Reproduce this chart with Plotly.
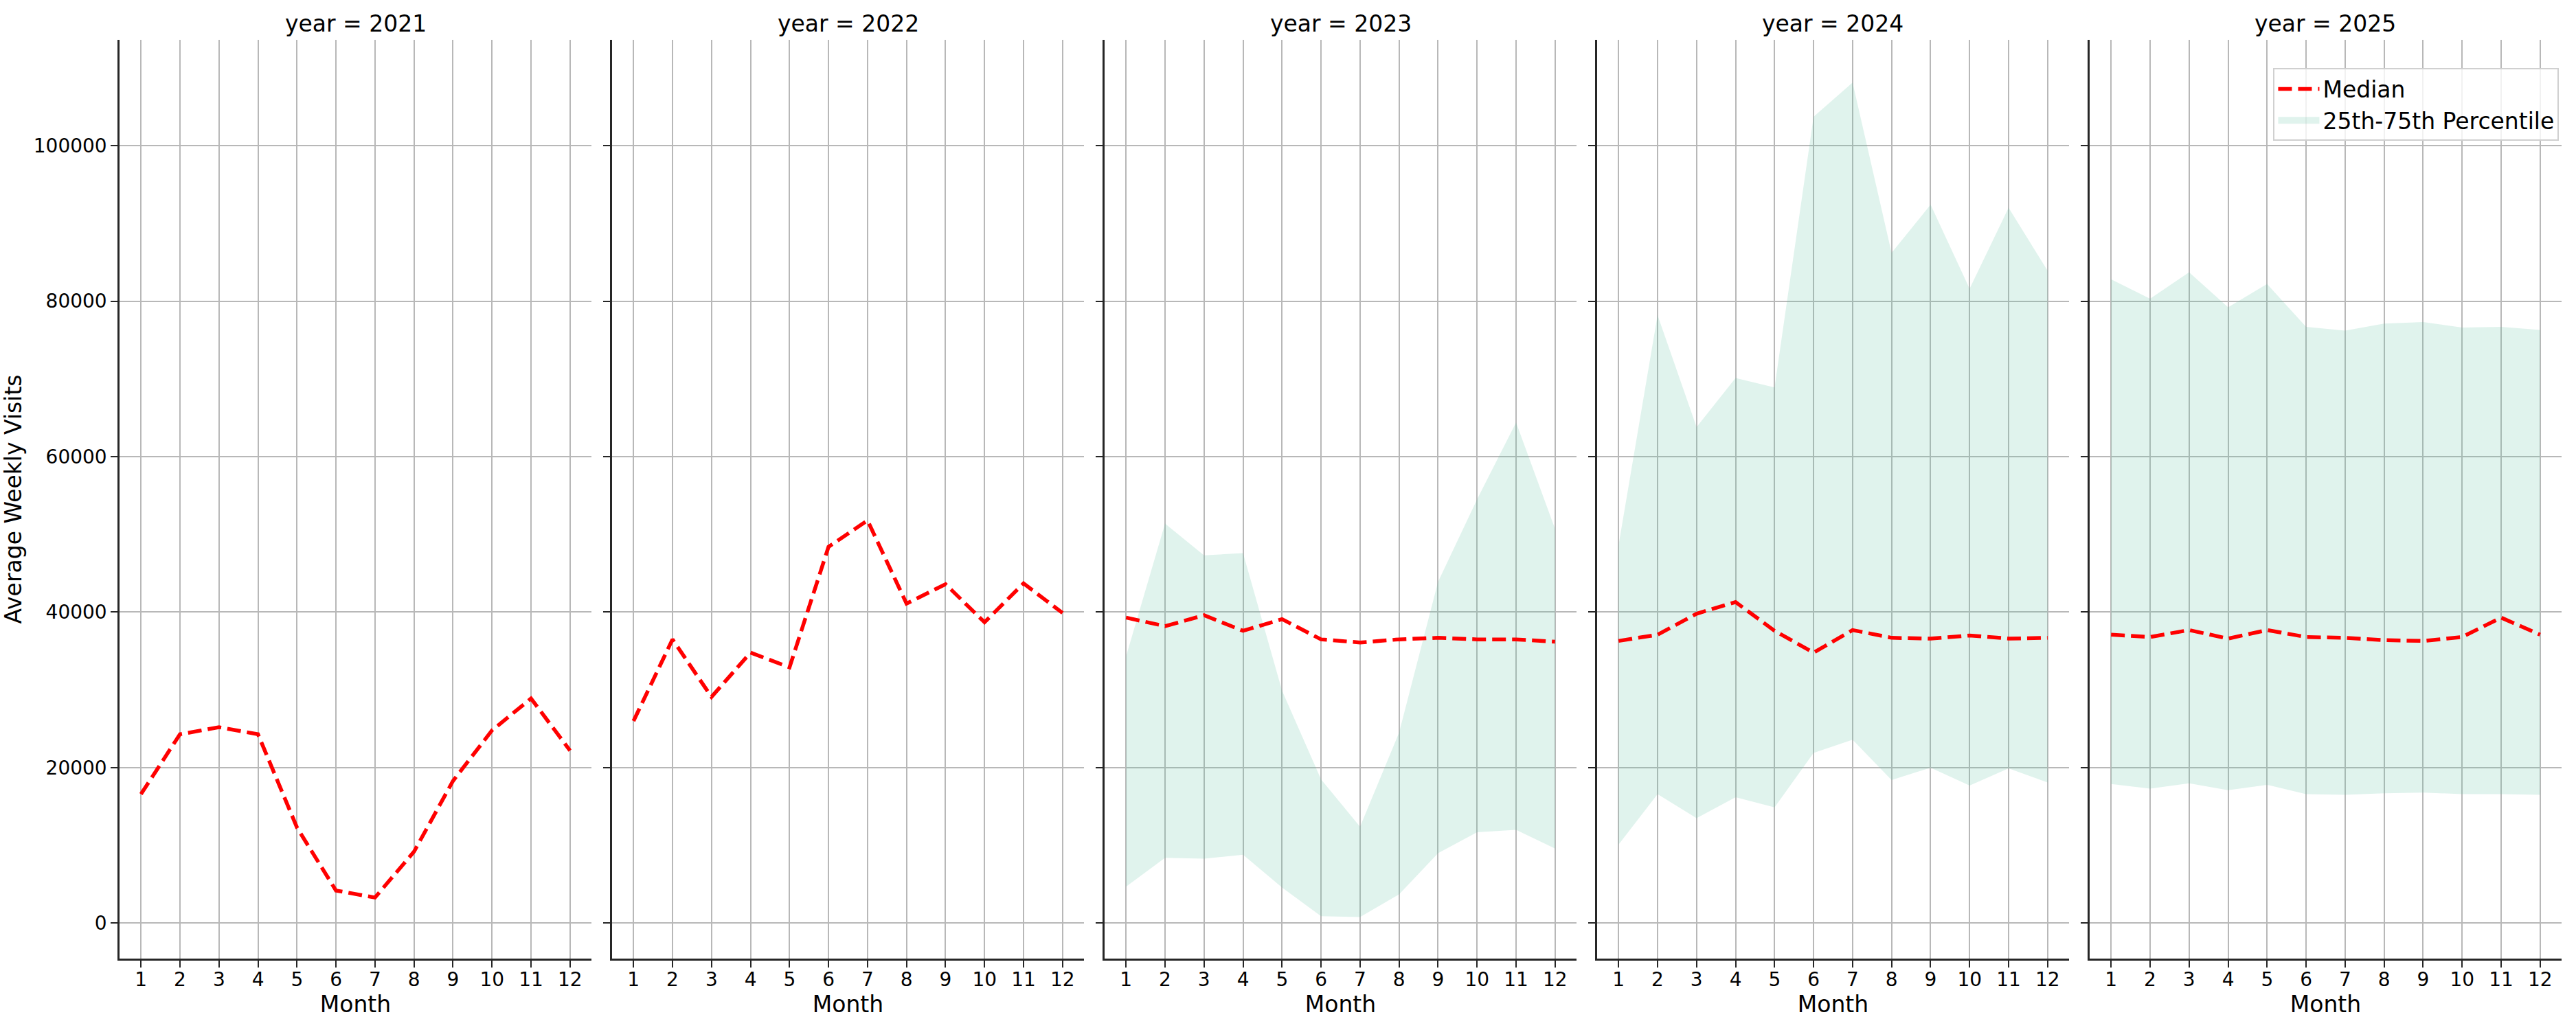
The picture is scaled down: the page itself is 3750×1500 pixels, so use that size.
import plotly.graph_objects as go

months = list(range(1, 13))
years = [2021, 2022, 2023, 2024, 2025]

median_2021 = [16600, 24300, 25200, 24300, 12300, 4200, 3300, 9200, 18300, 24800, 28900, 22200]
median_2022 = [26000, 36500, 29100, 34800, 32900, 48400, 51800, 41100, 43600, 38700, 43700, 39900]
median_2023 = [39300, 38200, 39600, 37600, 39100, 36500, 36100, 36500, 36700, 36500, 36500, 36200]
median_2024 = [36300, 37100, 39800, 41300, 37600, 34800, 37700, 36700, 36600, 37000, 36600, 36700]
median_2025 = [37100, 36800, 37700, 36600, 37700, 36800, 36700, 36400, 36300, 36800, 39300, 37100]

p25_2023 = [4700, 8400, 8300, 8800, 4600, 900, 800, 3700, 9000, 11700, 12000, 9600]
p75_2023 = [34300, 51400, 47300, 47600, 29900, 18500, 12400, 24500, 43900, 54500, 64400, 50700]
p25_2024 = [10100, 16600, 13500, 16200, 14900, 21900, 23600, 18400, 20000, 17700, 19900, 18100]
p75_2024 = [48600, 78200, 63800, 70100, 68900, 103700, 108100, 86200, 92400, 81600, 92000, 83900]
p25_2025 = [17900, 17300, 18000, 17100, 17800, 16600, 16500, 16700, 16800, 16600, 16600, 16500]
p75_2025 = [82800, 80300, 83700, 79200, 82200, 76700, 76200, 77100, 77300, 76600, 76700, 76300]

medians = [median_2021, median_2022, median_2023, median_2024, median_2025]
p25s = [None, None, p25_2023, p25_2024, p25_2025]
p75s = [None, None, p75_2023, p75_2024, p75_2025]

W, H = 3750, 1500
ML, MR, MT, MB = 169, 21, 58, 104
PW = W - ML - MR
panel_w = 688
step = 718

FONT = "DejaVu Sans"
fill_col = "rgba(102,194,165,0.2)"
grid_col = "#b8b8b8"
spine_col = "#262626"

fig = go.Figure()
layout = {}
annotations = []

for i, yr in enumerate(years):
    n = i + 1
    xa = "x" if n == 1 else f"x{n}"
    ya = "y" if n == 1 else f"y{n}"
    last = (i == len(years) - 1)
    if p25s[i] is not None:
        fig.add_trace(go.Scatter(x=months, y=p25s[i], xaxis=xa, yaxis=ya, mode="lines",
                                 line=dict(width=0, color=fill_col), showlegend=False,
                                 hoverinfo="skip"))
        fig.add_trace(go.Scatter(x=months, y=p75s[i], xaxis=xa, yaxis=ya, mode="lines",
                                 line=dict(width=0, color=fill_col), fill="tonexty",
                                 fillcolor=fill_col, name="25th-75th Percentile",
                                 legendgroup="band", showlegend=False))
    fig.add_trace(go.Scatter(x=months, y=medians[i], xaxis=xa, yaxis=ya, mode="lines",
                             line=dict(color="red", width=5.5, dash="20px,9px"),
                             name="Median", showlegend=last, legendrank=1))
    if last:
        # legend-only entry for the percentile band
        fig.add_trace(go.Scatter(x=[None], y=[None], xaxis=xa, yaxis=ya, mode="lines",
                                 line=dict(color=fill_col, width=30),
                                 name="25th-75th Percentile", legendgroup="band",
                                 showlegend=True, legendrank=2))

    x0 = step * i / PW
    x1 = min((step * i + panel_w) / PW, 1.0)
    key_x = "xaxis" if n == 1 else f"xaxis{n}"
    key_y = "yaxis" if n == 1 else f"yaxis{n}"
    layout[key_x] = dict(
        domain=[x0, x1], anchor=ya, range=[0.45, 12.55],
        tickmode="array", tickvals=months, ticktext=[str(m) for m in months],
        showgrid=True, gridcolor=grid_col, gridwidth=2.2, zeroline=False,
        showline=True, linecolor=spine_col, linewidth=2.5,
        ticks="outside", ticklen=10, tickwidth=2.2, tickcolor=spine_col,
        ticklabelstandoff=-6,
        tickfont=dict(family=FONT, size=28, color="black"),
        title=dict(text="Month", font=dict(family=FONT, size=33, color="black"), standoff=8),
    )
    layout[key_y] = dict(
        domain=[0, 1], anchor=xa, range=[-4550, 113600],
        tickmode="linear", tick0=0, dtick=20000, tickformat="d",
        showgrid=True, gridcolor=grid_col, gridwidth=2.2, zeroline=False,
        showline=True, linecolor=spine_col, linewidth=2.5,
        ticks="outside", ticklen=10, tickwidth=2.2, tickcolor=spine_col,
        showticklabels=(n == 1),
        tickfont=dict(family=FONT, size=28, color="black"),
    )
    if n == 1:
        layout[key_y]["title"] = dict(text="Average Weekly Visits",
                                      font=dict(family=FONT, size=33, color="black"),
                                      standoff=14)
    else:
        layout[key_y]["matches"] = "y"
    annotations.append(dict(
        text=f"year = {yr}", x=(x0 + x1) / 2, y=1, xref="paper", yref="paper",
        xanchor="center", yanchor="bottom", showarrow=False, yshift=2,
        font=dict(family=FONT, size=33, color="black")))

fig.update_layout(
    width=W, height=H,
    margin=dict(l=ML, r=MR, t=MT, b=MB),
    paper_bgcolor="white", plot_bgcolor="white",
    annotations=annotations,
    showlegend=True,
    legend=dict(x=0.999, y=0.969, xanchor="right", yanchor="top", traceorder="normal",
                bgcolor="rgba(255,255,255,0.8)", bordercolor="#d0d0d0", borderwidth=2,
                font=dict(family=FONT, size=33, color="black"), itemwidth=60,
                tracegroupgap=4),
    **layout,
)

fig.write_html("out.html")
